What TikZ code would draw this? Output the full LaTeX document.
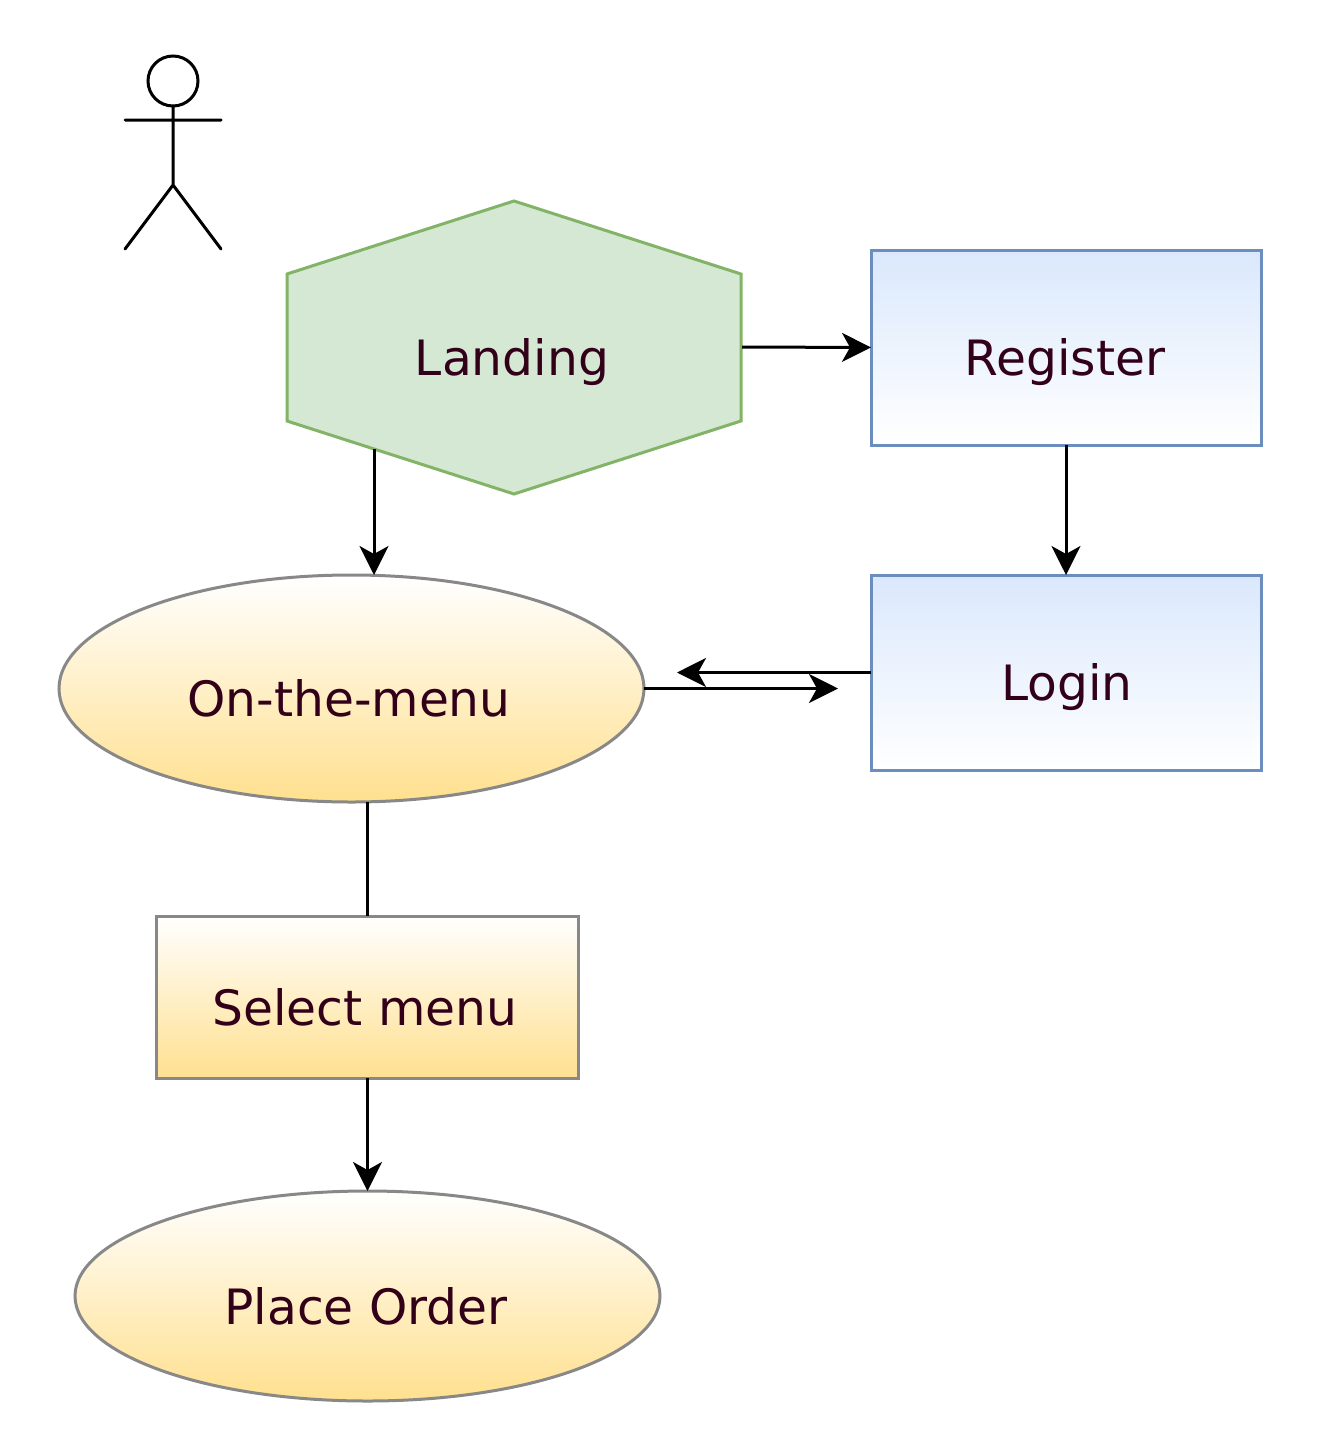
\documentclass[tikz,border=0pt]{standalone}
\usepackage{fontspec}
\setmainfont{DejaVu Sans}
\usetikzlibrary{shapes.geometric,arrows.meta}
\definecolor{txt}{HTML}{33001A}
\definecolor{blueL}{HTML}{6C8EBF}
\definecolor{blueF}{HTML}{DAE8FC}
\definecolor{greenL}{HTML}{82B366}
\definecolor{greenF}{HTML}{D5E8D4}
\definecolor{yelF}{HTML}{FFE08F}
\definecolor{grayL}{HTML}{888888}
\tikzset{
 x=1pt,y=-1pt,
 lbl/.style={text=txt,font=\fontsize{48.7}{52}\selectfont,inner sep=0pt},
 bluebox/.style={draw=blueL,line width=3pt,top color=blueF,bottom color=white},
 yel/.style={draw=grayL,line width=3pt,top color=white,bottom color=yelF},
 conn/.style={line width=3pt,draw=black},
 arr/.style={conn,-{Stealth[length=29pt,width=29pt,inset=8pt]}},
 shape frame/.style={inner sep=0pt,outer sep=0pt}
}
\begin{document}
\begin{tikzpicture}
\useasboundingbox (0,0) rectangle (1328,1432);
\fill[white] (0,0) rectangle (1328,1432);
% actor
\coordinate (head) at (173,81);
\draw[line width=3pt] (head) circle (25);
\draw[line width=3pt,line cap=round] (173,106) -- (173,185) (125,120) -- (221,120) (125,249) -- (173,185) -- (221,249);
% landing
\draw[draw=greenL,fill=greenF,line width=3pt] (514,201) -- (741,274) -- (741,421) -- (514,494) -- (287,421) -- (287,274) -- cycle;
\node[lbl] (landing) at (512,362) {Landing};
\coordinate (landingR) at (742,347);
\coordinate (landingB) at (374,449);
% boxes
\node[bluebox,shape frame,minimum width=390pt,minimum height=195pt] (register) at (1066,347.5) {};
\node[lbl] (registerL) at (1065,362) {Register};
\node[bluebox,shape frame,minimum width=390pt,minimum height=195pt] (login) at (1066,672.5) {};
\node[lbl] (loginL) at (1067,687) {Login};
\node[yel,ellipse,shape frame,minimum width=585pt,minimum height=227pt] (menu) at (351.5,688.5) {};
\node[lbl] (menuL) at (349,698) {On-the-menu};
\node[yel,shape frame,minimum width=422pt,minimum height=162pt] (select) at (367.5,997) {};
\node[lbl] (selectL) at (365,1007) {Select menu};
\node[yel,ellipse,shape frame,minimum width=585pt,minimum height=210pt] (order) at (367.5,1296) {};
\node[lbl] (orderL) at (366,1306) {Place Order};
% connectors
\draw[arr] (landingR) -- (register.west);
\draw[arr] (register.south) -- (login.north);
\draw[arr] (landingB) -- (374,575);
\coordinate (a1) at (677,672.5);
\coordinate (a2) at (838,688.5);
\draw[arr] (login.west) -- (a1);
\draw[arr] (menu.east) -- (a2);
\draw[conn] (menu.south -| select.north) -- (select.north);
\draw[arr] (select.south) -- (order.north);
\end{tikzpicture}
\end{document}
